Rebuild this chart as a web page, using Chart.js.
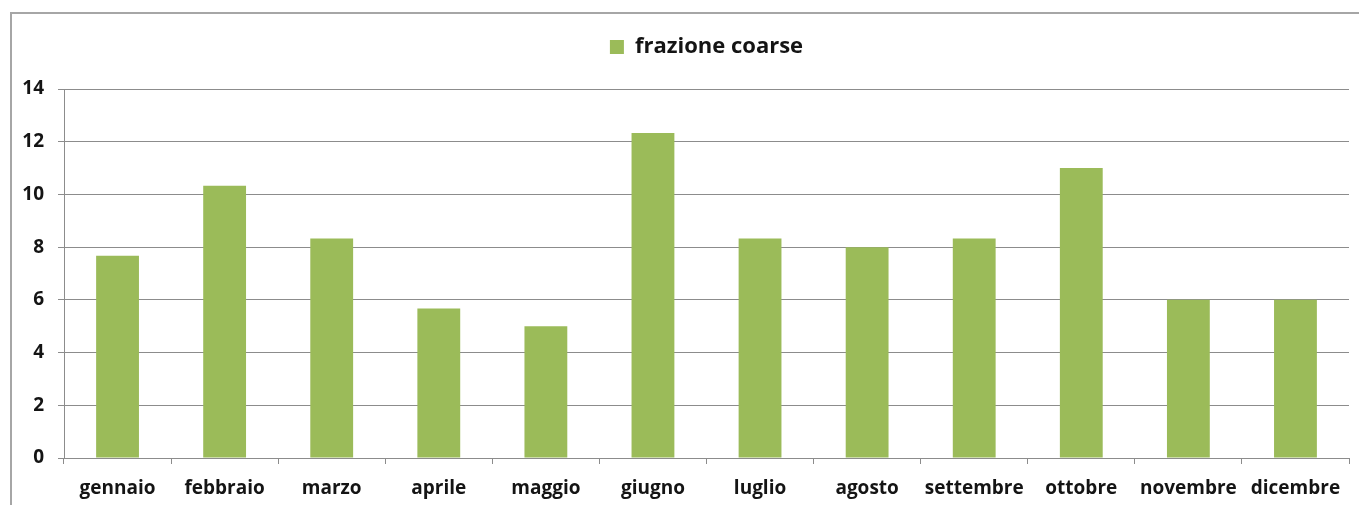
<!DOCTYPE html>
<html>
<head>
<meta charset="utf-8">
<script src="https://cdn.jsdelivr.net/npm/chart.js@4"></script>
<style>
    html, body { margin: 0; padding: 0; background: #fff; }
    #wrap { position: relative; width: 1359px; height: 505px; overflow: hidden; }
    #frame {
        position: absolute; left: 10px; top: 12px; width: 1400px; height: 600px;
        border: 2px solid #a6a6a6; box-sizing: border-box;
    }
    #chartBox { position: absolute; left: 0; top: 0; width: 1359px; height: 505px; }
</style>
</head>
<body>
<div id="wrap">
    <div id="frame"></div>
    <div id="chartBox"><canvas id="coarseChart"></canvas></div>
</div>
<script>
// Data
const months = ['gennaio', 'febbraio', 'marzo', 'aprile', 'maggio', 'giugno',
    'luglio', 'agosto', 'settembre', 'ottobre', 'novembre', 'dicembre'];
const coarseValues = [7.67, 10.33, 8.33, 5.67, 5.0, 12.33, 8.33, 8.0, 8.33, 11.0, 6.0, 6.0];
const yTicks = [0, 2, 4, 6, 8, 10, 12, 14];

const gridGray = '#8c8c8c';
const textDark = '#141414';
const labelFont = { family: '"Open Sans", "DejaVu Sans", sans-serif', size: 19, weight: 'bold' };

// extra room under the legend
const legendSpacer = {
    id: 'legendSpacer',
    beforeInit(chart) {
        const origFit = chart.legend.fit;
        chart.legend.fit = function () {
            origFit.bind(chart.legend)();
            this.height += 21;
        };
    }
};

const ctx = document.getElementById('coarseChart').getContext('2d');
const coarseChart = new Chart(ctx, {
    type: 'bar',
    data: {
        labels: months,
        datasets: [{
            label: 'frazione coarse',
            data: coarseValues,
            backgroundColor: '#9bbb59',
            borderWidth: 0,
            barPercentage: 0.4,
            categoryPercentage: 1.0
        }]
    },
    plugins: [legendSpacer],
    options: {
        responsive: true,
        maintainAspectRatio: false,
        animation: false,
        layout: {
            padding: { top: 13, right: 10, bottom: 0, left: 0 }
        },
        plugins: {
            legend: {
                display: true,
                position: 'top',
                fullSize: false,
                labels: {
                    boxWidth: 14,
                    boxHeight: 14,
                    padding: 23,
                    color: textDark,
                    font: { family: '"Open Sans", "DejaVu Sans", sans-serif', size: 22, weight: 'bold' }
                }
            },
            tooltip: { enabled: false }
        },
        scales: {
            x: {
                afterFit: function (scale) { scale.height = 47; },
                grid: {
                    drawOnChartArea: false,
                    drawTicks: true,
                    tickLength: 6,
                    color: gridGray,
                    offset: true
                },
                border: { color: gridGray, width: 1 },
                ticks: {
                    color: textDark,
                    font: labelFont,
                    padding: 13,
                    maxRotation: 0,
                    autoSkip: false
                }
            },
            y: {
                min: 0,
                max: 14,
                afterFit: function (scale) { scale.width = 64; },
                afterBuildTicks: function (scale) {
                    scale.ticks = yTicks.map(v => ({ value: v }));
                },
                grid: {
                    color: gridGray,
                    lineWidth: 1,
                    tickLength: 6
                },
                border: { color: gridGray, width: 1 },
                ticks: {
                    color: textDark,
                    font: labelFont,
                    padding: 14
                }
            }
        }
    }
});
</script>
</body>
</html>
